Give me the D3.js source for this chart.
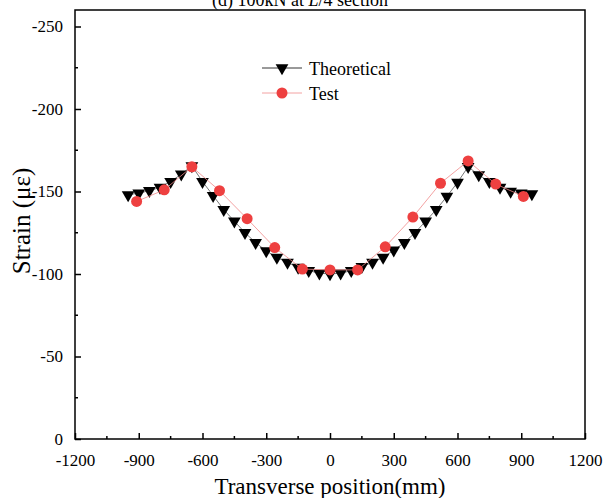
<!DOCTYPE html>
<html>
<head>
<meta charset="utf-8">
<script src="https://cdn.jsdelivr.net/npm/d3@7"></script>
<style>
  body { margin: 0; background: #fff; }
  text { font-family: "Liberation Serif", "Times New Roman", serif; fill: #000; }
</style>
</head>
<body>
<div id="chart"></div>
<script>
// theoretical curve, every 50 mm
const theoX = [-950, -900, -850, -800, -750, -700, -650, -600, -550, -500, -450, -400, -350, -300, -250, -200, -150, -100, -50, 0,
  50, 100, 150, 200, 250, 300, 350, 400, 450, 500, 550, 600, 650, 700, 750, 800, 850, 900, 950]
const theoY = [-148, -149, -150.5, -152.5, -156, -160.5, -165.5, -156, -147.5, -139, -132, -125, -119, -114, -110, -107, -104, -102, -100.5, -100,
  -100.5, -102, -104.5, -107, -110, -114.5, -119, -125, -132, -139, -147, -155.5, -165, -160, -156, -152.5, -150, -149, -148.5]

// test gauges
const testX = [-910, -780, -650, -520, -390, -260, -130, 0, 130, 260, 390, 520, 650, 780, 910]
const testY = [-144, -151, -165, -150.5, -133.5, -116, -103, -102.5, -102.5, -116.5, -134.5, -155, -168.5, -154.5, -147]

const xTicks = [-1200, -900, -600, -300, 0, 300, 600, 900, 1200]
const yTicks = [0, -50, -100, -150, -200, -250]

const width = 605, height = 498
const margin = {left: 75, right: 20, top: 10, bottom: 59}

const svg = d3.select("#chart").append("svg")
  .attr("width", width)
  .attr("height", height)

const x = d3.scaleLinear().domain([-1200, 1200]).range([margin.left, width - margin.right])
const y = d3.scaleLinear().domain([0, -260]).range([height - margin.bottom, margin.top])

// plain hyphen like the original
const fmt = d => String(d)

// title (cut at top like the original)
const title = svg.append("text")
  .attr("x", 300)
  .attr("y", 6)
  .attr("text-anchor", "middle")
  .style("font-size", "18px")
title.append("tspan").text("(d) 100kN at ")
title.append("tspan").style("font-style", "italic").text("L")
title.append("tspan").text("/4 section")

// axes
const xAxis = d3.axisBottom(x).tickValues(xTicks).tickSize(-6).tickSizeOuter(0).tickPadding(12).tickFormat(fmt)
const yAxis = d3.axisLeft(y).tickValues(yTicks).tickSize(-6).tickSizeOuter(0).tickPadding(12).tickFormat(fmt)

const gx = svg.append("g")
  .attr("transform", `translate(0,${height - margin.bottom})`)
  .call(xAxis)
gx.selectAll("text").style("font-size", "17px").style("font-family", "Liberation Serif").attr("dy", "0.9em")

const gy = svg.append("g")
  .attr("transform", `translate(${margin.left},0)`)
  .call(yAxis)
gy.selectAll("text").style("font-size", "17px").style("font-family", "Liberation Serif")

svg.selectAll(".domain").remove()
svg.selectAll(".tick line").attr("stroke", "#000").attr("stroke-width", 1.5)

// minor ticks
svg.append("g").selectAll("line")
  .data(d3.range(-1050, 1200, 300))
  .join("line")
  .attr("x1", d => x(d)).attr("x2", d => x(d))
  .attr("y1", height - margin.bottom).attr("y2", height - margin.bottom - 3)
  .attr("stroke", "#000").attr("stroke-width", 1.5)

svg.append("g").selectAll("line")
  .data([-25, -75, -125, -175, -225])
  .join("line")
  .attr("x1", margin.left).attr("x2", margin.left + 3)
  .attr("y1", d => y(d)).attr("y2", d => y(d))
  .attr("stroke", "#000").attr("stroke-width", 1.5)

// frame
svg.append("rect")
  .attr("x", margin.left)
  .attr("y", margin.top)
  .attr("width", width - margin.left - margin.right)
  .attr("height", height - margin.top - margin.bottom)
  .attr("fill", "none")
  .attr("stroke", "#000")
  .attr("stroke-width", 1.5)

const theo = theoX.map((d, i) => ({x: d, y: theoY[i]}))
const test = testX.map((d, i) => ({x: d, y: testY[i]}))

const line = d3.line().x(d => x(d.x)).y(d => y(d.y))

const tri = d3.symbol().type(d3.symbolTriangle).size(70)
const red = "#ee4040"

// theoretical
svg.append("path")
  .datum(theo)
  .attr("d", line)
  .attr("fill", "none")
  .attr("stroke", "#555")
  .attr("stroke-width", 0.8)

svg.append("g").selectAll("path")
  .data(theo)
  .join("path")
  .attr("d", tri)
  .attr("transform", d => `translate(${x(d.x)},${y(d.y)}) rotate(180)`)
  .attr("fill", "#000")

// test
svg.append("path")
  .datum(test)
  .attr("d", line)
  .attr("fill", "none")
  .attr("stroke", "#f08a8a")
  .attr("stroke-width", 0.8)

svg.append("g").selectAll("circle")
  .data(test)
  .join("circle")
  .attr("cx", d => x(d.x))
  .attr("cy", d => y(d.y))
  .attr("r", 5.5)
  .attr("fill", red)

// legend
const lg = svg.append("g")
lg.append("line").attr("x1", 262).attr("x2", 302).attr("y1", 68).attr("y2", 68).attr("stroke", "#000").attr("stroke-width", 0.8)
lg.append("path").attr("d", tri).attr("transform", "translate(282,68) rotate(180)").attr("fill", "#000")
lg.append("text").attr("x", 309).attr("y", 75).style("font-size", "18px").text("Theoretical")
lg.append("line").attr("x1", 262).attr("x2", 302).attr("y1", 93).attr("y2", 93).attr("stroke", "#f08a8a").attr("stroke-width", 0.8)
lg.append("circle").attr("cx", 282).attr("cy", 93).attr("r", 5.5).attr("fill", red)
lg.append("text").attr("x", 309).attr("y", 100).style("font-size", "18px").text("Test")

// axis titles
svg.append("text")
  .attr("x", x(0))
  .attr("y", 494)
  .attr("text-anchor", "middle")
  .style("font-size", "23px")
  .text("Transverse position(mm)")

svg.append("text")
  .attr("transform", "translate(30,221) rotate(-90)")
  .attr("text-anchor", "middle")
  .style("font-size", "25px")
  .text("Strain (με)")
</script>
</body>
</html>
